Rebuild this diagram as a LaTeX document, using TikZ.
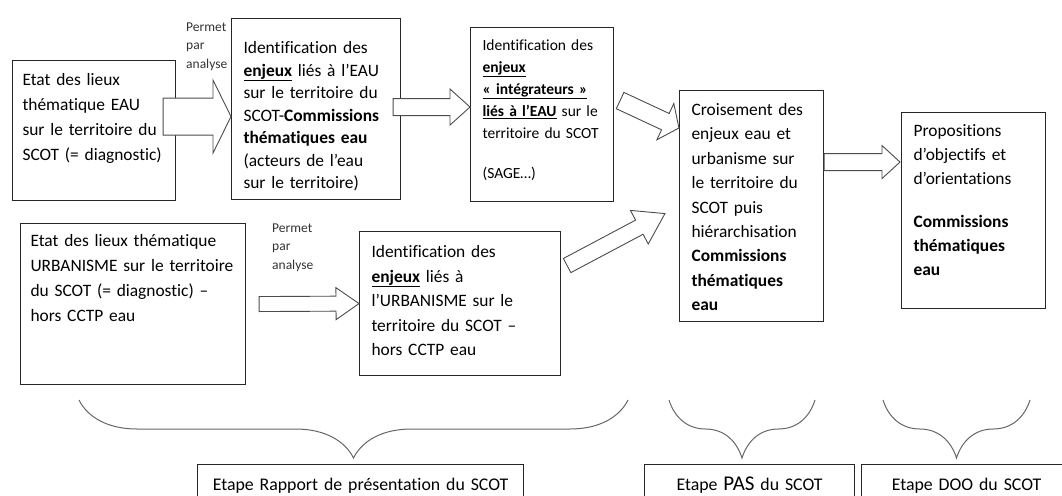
\documentclass[tikz,border=0pt]{standalone}
\usepackage{fontspec}
\setmainfont{Carlito}[Ligatures=NoCommon]
\usepackage{tikz}
\usetikzlibrary{calc,decorations.pathreplacing}

\newcommand{\fatarrow}[5]{%
  \draw[fat] let \p1=(#1), \p2=(#2),
    \n1={atan2(\y2-\y1,\x2-\x1)}, \n2={veclen(\x2-\x1,\y2-\y1)} in
    [shift={(\p1)}, rotate=\n1]
    (0pt,#3) -- (\n2-#5,#3) -- (\n2-#5,#4) -- (\n2+0pt,0pt)
    -- (\n2-#5,-#4) -- (\n2-#5,-#3) -- (0pt,-#3) -- cycle;}

\begin{document}
\begin{tikzpicture}[
  x=1pt, y=-1pt,
  stage/.style={draw=black!85, line width=1.1pt, anchor=north west, align=left,
    inner xsep=12pt, inner ysep=0pt, font=\fontsize{17.4}{24}\selectfont},
  note/.style={anchor=north west, align=left, inner sep=0pt, text width=52pt,
    text height=10pt, text=black!80, font=\fontsize{13.5}{18.5}\selectfont},
  etape/.style={draw=black!85, line width=1.1pt, anchor=north west, align=center,
    inner xsep=12pt, inner ysep=0pt, text height=26pt, text depth=14pt,
    font=\fontsize{17.8}{20}\selectfont},
  fat/.style={draw=black!70, fill=white, line width=0.9pt},
  accolade/.style={draw=black!60, line width=1pt, decorate,
    decoration={brace, mirror, amplitude=58pt}}
]
\useasboundingbox (0,0) rectangle (1062,495);
\clip (0,0) rectangle (1062,495);

\node[stage, inner xsep=10pt, text width=143pt, text height=25pt, text depth=115pt,
  font=\fontsize{17.4}{25}\selectfont] (a) at (12,60)
  {Etat des lieux\\ thématique EAU\\ sur le territoire du\\ SCOT (= diagnostic)};
\node[stage, text width=145pt, text height=35pt, text depth=146pt,
  font=\fontsize{17.4}{22.5}\selectfont] (b) at (231,18)
  {Identification des\\ \underline{\textbf{enjeux}} liés à l’EAU\\ sur le territoire du\\
   SCOT-\textbf{Commissions}\\ \textbf{thématiques eau}\\ (acteurs de l’eau\\ sur le territoire)};
\node[stage, text width=119pt, text height=23pt, text depth=151pt,
  font=\fontsize{15.5}{22}\selectfont] (c) at (470,27)
  {Identification des\\ \underline{\textbf{enjeux}}\\ \underline{\textbf{« intégrateurs »}}\\
   \underline{\textbf{liés à l’EAU}} sur le\\ territoire du SCOT\\[18pt] (SAGE…)};
\node[stage, text width=120pt, text height=25pt, text depth=206pt,
  font=\fontsize{17.4}{24.4}\selectfont] (d) at (679,90)
  {Croisement des\\ enjeux eau et\\ urbanisme sur\\ le territoire du\\ SCOT puis\\
   hiérarchisation\\ \textbf{Commissions}\\ \textbf{thématiques}\\ \textbf{eau}};
\node[stage, text width=120pt, text height=24pt, text depth=172pt] (e) at (901,112)
  {Propositions\\ d’objectifs et\\ d’orientations\\[19pt] \textbf{Commissions}\\
   \textbf{thématiques}\\ \textbf{eau}};
\node[stage, inner xsep=10pt, text width=205pt, text height=23pt, text depth=138pt,
  font=\fontsize{17.4}{25}\selectfont] (f) at (20,223)
  {Etat des lieux thématique\\ URBANISME sur le territoire\\ du SCOT (= diagnostic) –\\ hors CCTP eau};
\node[stage, text width=177pt, text height=26pt, text depth=118pt,
  font=\fontsize{17.4}{24.5}\selectfont] (g) at (359,231)
  {Identification des\\ \underline{\textbf{enjeux}} liés à\\ l’URBANISME sur le\\ territoire du SCOT –\\ hors CCTP eau};

\node[note] (p1) at (186,21) {Permet\\ par\\ analyse};
\node[note] (p2) at (272,222) {Permet\\ par\\ analyse};

\fatarrow{[xshift=-13pt,yshift=14pt]a.east}{[yshift=-7.5pt]b.west}{18.5pt}{36.5pt}{18pt}
\fatarrow{[xshift=-8pt,yshift=2pt]b.east}{[yshift=7.5pt]c.west}{8.5pt}{18pt}{20pt}
\fatarrow{[xshift=6pt,yshift=14pt]c.east}{[yshift=-38pt]d.north west}{9pt}{20pt}{15pt}
\fatarrow{[xshift=6pt,yshift=38pt]g.east}{[xshift=-14pt,yshift=-7.5pt]d.west}{8pt}{19pt}{29pt}
\fatarrow{[xshift=13pt]f.east}{g.west}{7.5pt}{16pt}{23pt}
\fatarrow{[yshift=44pt]d.east}{[xshift=-1pt,yshift=48.5pt]e.west}{8.5pt}{16.5pt}{18pt}

\draw[accolade] (79,400) -- (628,400);
\draw[accolade] (669,400) -- (815,400);
\draw[accolade] (883,400) -- (1030,400);

\node[etape, text width=302pt] (l1) at (197,464) {Etape Rapport de présentation du SCOT};
\node[etape, text width=186pt] (l2) at (644,464) {Etape {\fontsize{21}{21}\selectfont PAS} du SCOT};
\node[etape, text width=186pt] (l3) at (861,464) {Etape DOO du SCOT};
\end{tikzpicture}
\end{document}
